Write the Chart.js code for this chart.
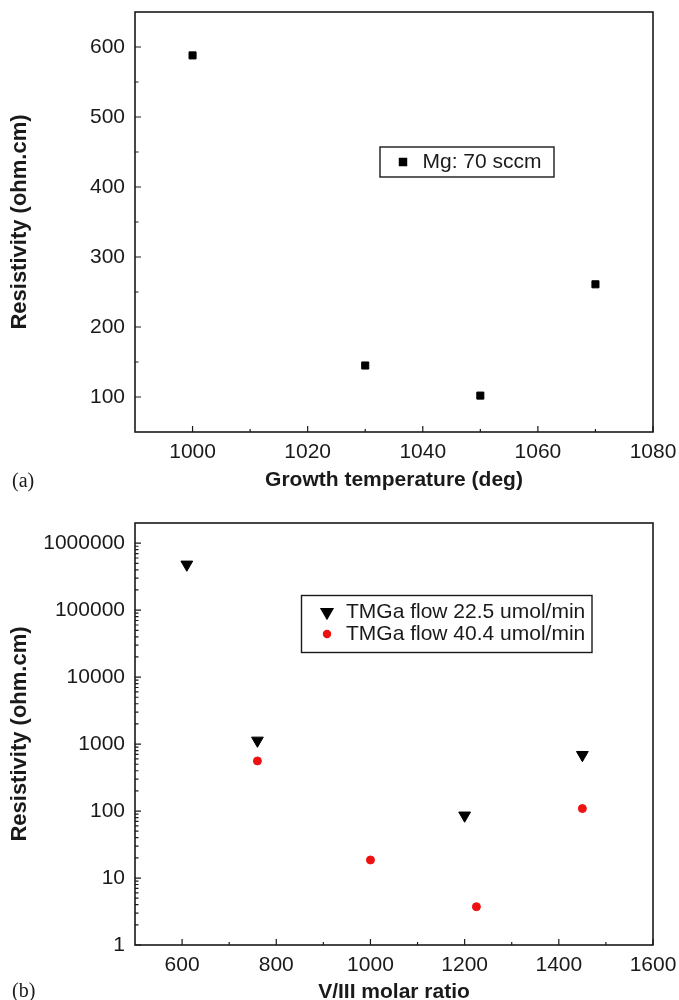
<!DOCTYPE html>
<html>
<head>
<meta charset="utf-8">
<script src="https://cdn.jsdelivr.net/npm/chart.js@4.4.1/dist/chart.umd.min.js"></script>
<style>
  html, body { margin: 0; padding: 0; background: #fff; width: 679px; height: 1000px; overflow: hidden; }
  .panel-wrap { position: absolute; left: 0; width: 679px; height: 500px; }
  .panel-tag { position: absolute; left: 12px; font: 20px "Liberation Serif", "Times New Roman", serif; line-height: 20px; color: #1a1a1a; }
</style>
</head>
<body>
<div class="panel-wrap" style="top:0"><canvas id="chart-temp"></canvas></div>
<div class="panel-wrap" style="top:500px"><canvas id="chart-ratio"></canvas></div>
<div class="panel-tag" style="top:470px">(a)</div>
<div class="panel-tag" style="top:980px">(b)</div>
<script>
// panel (a): resistivity vs growth temperature
const tempValues = [1000, 1030, 1050, 1070];
const tempResistivity = [588, 145, 102, 261];
const tempTicks = [1000, 1020, 1040, 1060, 1080];
const tempMinorTicks = [1010, 1030, 1050, 1070];
const resTicks = [100, 200, 300, 400, 500, 600];
const resMinorTicks = [150, 250, 350, 450, 550];

// panel (b): resistivity vs V/III ratio, two TMGa flows
const ratioLowFlow = [610, 760, 1200, 1450];
const resLowFlow = [480000, 1130, 86, 690];
const ratioHighFlow = [760, 1000, 1225, 1450];
const resHighFlow = [560, 18.6, 3.73, 109];
const ratioTicks = [600, 800, 1000, 1200, 1400, 1600];
const ratioMinorTicks = [700, 900, 1100, 1300, 1500];
const logTicks = [1, 10, 100, 1000, 10000, 100000, 1000000];
const logMinorTicks = logTicks.slice(0, -1).flatMap((d) => [2, 3, 4, 5, 6, 7, 8, 9].map((m) => m * d));

const INK = "#1a1a1a";
const FONT = '"Liberation Sans", Arial, Helvetica, sans-serif';

Chart.defaults.font.family = FONT;
Chart.defaults.color = INK;

const toPoints = (xs, ys) => xs.map((x, i) => ({ x: x, y: ys[i] }));

// frame round the plot area + inward tick marks
const frameTicks = {
  id: "frameTicks",
  afterDraw(chart, args, opts) {
    const { ctx, chartArea: a, scales } = chart;
    ctx.save();
    ctx.strokeStyle = INK;
    ctx.lineWidth = 1.2;
    ctx.beginPath();
    const xMarks = (vals, len) => vals.forEach((v) => {
      const px = scales.x.getPixelForValue(v);
      ctx.moveTo(px, a.bottom);
      ctx.lineTo(px, a.bottom - len);
    });
    const yMarks = (vals, len) => vals.forEach((v) => {
      const py = scales.y.getPixelForValue(v);
      ctx.moveTo(a.left, py);
      ctx.lineTo(a.left + len, py);
    });
    xMarks(opts.xMajor, 6);
    xMarks(opts.xMinor, 3);
    yMarks(opts.yMajor, 6);
    yMarks(opts.yMinor, 3.5);
    ctx.stroke();
    ctx.lineWidth = 1.6;
    ctx.strokeRect(a.left, a.top, a.right - a.left, a.bottom - a.top);
    ctx.restore();
  },
};

// boxed legend inside the plot
const boxLegend = {
  id: "boxLegend",
  afterDraw(chart, args, opts) {
    const { ctx } = chart;
    const [bx, by, bw, bh] = opts.box;
    ctx.save();
    ctx.fillStyle = "#fff";
    ctx.fillRect(bx, by, bw, bh);
    ctx.strokeStyle = INK;
    ctx.lineWidth = 1.4;
    ctx.strokeRect(bx, by, bw, bh);
    ctx.font = opts.fontSize + "px " + FONT;
    ctx.textBaseline = "middle";
    ctx.textAlign = "left";
    opts.rows.forEach((row) => {
      const ds = chart.data.datasets[row.ds];
      ctx.fillStyle = ds.backgroundColor;
      ctx.strokeStyle = ds.borderColor;
      Chart.helpers.drawPoint(ctx, {
        pointStyle: ds.pointStyle,
        rotation: ds.rotation || 0,
        radius: row.radius || ds.pointRadius,
        borderWidth: 1,
      }, opts.markerX, row.y);
      ctx.fillStyle = INK;
      ctx.fillText(ds.label, opts.textX, row.y);
    });
    ctx.restore();
  },
};

const fixedTicks = (vals) => (scale) => {
  scale.ticks = vals.map((v) => ({ value: v }));
};

function axisX(min, max, ticks, title, height, titlePad) {
  return {
    type: "linear",
    min: min,
    max: max,
    grid: { display: false, drawTicks: false },
    border: { display: false },
    afterBuildTicks: fixedTicks(ticks),
    afterFit: (s) => {
      s.height = height;
      s.paddingLeft = 0;
      s.paddingRight = 0;
    },
    ticks: { padding: 8, font: { size: 21 }, color: INK, callback: (v) => String(v) },
    title: {
      display: true,
      text: title,
      color: INK,
      font: { size: 21, weight: "bold" },
      padding: { top: 0, bottom: titlePad },
    },
  };
}

function axisY(type, min, max, ticks, title) {
  return {
    type: type,
    min: min,
    max: max,
    grid: { display: false, drawTicks: false },
    border: { display: false },
    afterBuildTicks: fixedTicks(ticks),
    afterFit: (s) => {
      s.width = 135;
      s.paddingTop = 0;
      s.paddingBottom = 0;
    },
    ticks: { padding: 10, font: { size: 21 }, color: INK, callback: (v) => String(v) },
    title: {
      display: true,
      text: title,
      color: INK,
      font: { size: 22, weight: "bold" },
      padding: { top: 7, bottom: 0 },
    },
  };
}

const common = {
  responsive: true,
  maintainAspectRatio: false,
  animation: false,
  events: [],
};

new Chart(document.getElementById("chart-temp").getContext("2d"), {
  type: "scatter",
  data: {
    datasets: [
      {
        label: "Mg: 70 sccm",
        data: toPoints(tempValues, tempResistivity),
        pointStyle: "rect",
        pointRadius: 5,
        backgroundColor: "#000",
        borderColor: "#000",
        borderWidth: 1,
      },
    ],
  },
  options: {
    ...common,
    layout: { padding: { top: 12, right: 26, left: 0, bottom: 0 } },
    scales: {
      x: axisX(990, 1080, tempTicks, "Growth temperature (deg)", 68, 7.4),
      y: axisY("linear", 50, 650, resTicks, "Resistivity (ohm.cm)"),
    },
    plugins: {
      legend: { display: false },
      tooltip: { enabled: false },
      frameTicks: { xMajor: tempTicks, xMinor: tempMinorTicks, yMajor: resTicks, yMinor: resMinorTicks },
      boxLegend: {
        box: [380, 147, 174, 30],
        rows: [{ ds: 0, y: 162 }],
        markerX: 403,
        textX: 422.5,
        fontSize: 21,
      },
    },
  },
  plugins: [frameTicks, boxLegend],
});

new Chart(document.getElementById("chart-ratio").getContext("2d"), {
  type: "scatter",
  data: {
    datasets: [
      {
        label: "TMGa flow 22.5 umol/min",
        data: toPoints(ratioLowFlow, resLowFlow),
        pointStyle: "triangle",
        rotation: 180,
        pointRadius: 6.8,
        backgroundColor: "#000",
        borderColor: "#000",
        borderWidth: 1,
      },
      {
        label: "TMGa flow 40.4 umol/min",
        data: toPoints(ratioHighFlow, resHighFlow),
        pointStyle: "circle",
        pointRadius: 4,
        backgroundColor: "#ee1111",
        borderColor: "#ee1111",
        borderWidth: 1,
      },
    ],
  },
  options: {
    ...common,
    layout: { padding: { top: 23, right: 26, left: 0, bottom: 0 } },
    scales: {
      x: axisX(500, 1600, ratioTicks, "V/III molar ratio", 55, -4.6),
      y: axisY("logarithmic", 1, 2000000, logTicks, "Resistivity (ohm.cm)"),
    },
    plugins: {
      legend: { display: false },
      tooltip: { enabled: false },
      frameTicks: { xMajor: ratioTicks, xMinor: ratioMinorTicks, yMajor: logTicks, yMinor: logMinorTicks },
      boxLegend: {
        box: [301.5, 95.5, 290.5, 57],
        rows: [{ ds: 0, y: 112 }, { ds: 1, y: 134, radius: 3.5 }],
        markerX: 327,
        textX: 346,
        fontSize: 21,
      },
    },
  },
  plugins: [frameTicks, boxLegend],
});
</script>
</body>
</html>
